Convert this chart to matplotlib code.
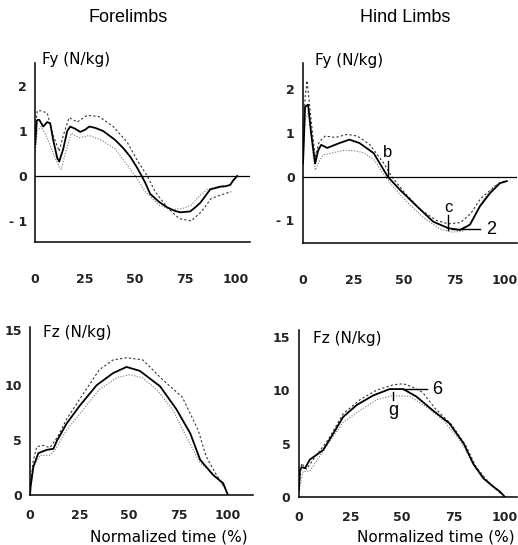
import numpy as np
import matplotlib
matplotlib.use('Agg')
import matplotlib.pyplot as plt

plt.rcParams['font.family'] = ['DejaVu Sans']

# Forelimbs Fy (N/kg) vs normalized time (%)
fy_fore_t = [0, 0.8, 2, 4, 6, 7.5, 9, 11, 12, 14, 16, 17.5, 20, 22.5, 25, 27, 30, 34, 40, 44, 47.5, 51, 53, 55, 57.5, 62, 66, 70, 72.5, 77.5, 80, 82.5, 85, 87.5, 90, 92.5, 95, 97.5, 99, 101]
fy_fore_mean = [0.7, 1.24, 1.25, 1.1, 1.2, 1.17, 0.8, 0.4, 0.32, 0.6, 1.0, 1.1, 1.05, 0.98, 1.03, 1.1, 1.07, 1.0, 0.8, 0.62, 0.43, 0.18, 0.02, -0.15, -0.4, -0.58, -0.7, -0.78, -0.81, -0.79, -0.7, -0.6, -0.45, -0.3, -0.27, -0.24, -0.23, -0.2, -0.1, 0.0]
fy_fore_up_t = [0, 1, 3, 6, 9, 12, 14, 17, 21, 26, 32, 39, 46, 51, 56, 60, 66, 72, 78, 83, 88, 93, 98]
fy_fore_up = [1.0, 1.45, 1.45, 1.4, 0.9, 0.55, 0.9, 1.3, 1.2, 1.35, 1.32, 1.1, 0.75, 0.35, 0.0, -0.35, -0.7, -0.95, -1.0, -0.8, -0.5, -0.42, -0.35]
fy_fore_lo_t = [0, 1, 3, 6, 9, 12, 13, 15, 18, 22, 27, 33, 40, 45, 50, 55, 62, 68, 74, 78, 82, 86, 90, 95]
fy_fore_lo = [0.5, 1.0, 1.1, 0.85, 0.5, 0.2, 0.15, 0.5, 0.95, 0.85, 0.9, 0.8, 0.6, 0.3, 0.0, -0.35, -0.65, -0.75, -0.72, -0.65, -0.45, -0.3, -0.25, -0.2]

# Hind limbs Fy
fy_hind_t = [0, 1, 2.5, 4, 6, 7.5, 9, 12, 18, 23, 28, 35, 42, 48, 56.5, 64.5, 72, 77.7, 82.7, 87.6, 92.6, 97.5, 101]
fy_hind_mean = [0.3, 1.6, 1.65, 1.0, 0.3, 0.6, 0.73, 0.66, 0.77, 0.85, 0.77, 0.54, 0.0, -0.3, -0.68, -1.03, -1.18, -1.22, -1.1, -0.68, -0.38, -0.15, -0.1]
fy_hind_up_t = [0, 1, 2, 4, 6, 8, 11, 16, 22, 27, 33, 40, 44, 50, 58, 66, 72, 78, 83, 88, 93, 97, 100]
fy_hind_up = [0.5, 1.8, 2.2, 1.3, 0.45, 0.8, 0.93, 0.9, 0.97, 0.93, 0.74, 0.31, 0.0, -0.35, -0.75, -1.0, -1.08, -1.05, -0.85, -0.5, -0.3, -0.15, -0.1]
fy_hind_lo_t = [0, 1, 3, 5, 6, 8, 10, 15, 20, 25, 30, 35, 40, 45, 52, 60, 68, 74, 79, 84, 89, 94, 98]
fy_hind_lo = [0.3, 1.3, 1.5, 0.5, 0.15, 0.35, 0.5, 0.55, 0.6, 0.6, 0.55, 0.4, 0.05, -0.25, -0.6, -0.95, -1.2, -1.27, -1.25, -1.0, -0.55, -0.25, -0.12]

# Forelimbs Fz
fz_fore_t = [0, 0.3, 1.7, 4.2, 8.4, 11.8, 13.5, 18.5, 25, 33.7, 42, 48.8, 55.5, 65.7, 74, 81, 86, 92.6, 97.6, 100]
fz_fore_mean = [0.0, 0.76, 2.6, 3.8, 4.1, 4.2, 4.9, 6.5, 8.1, 10.0, 11.1, 11.66, 11.3, 9.9, 7.8, 5.6, 3.2, 1.8, 1.07, 0.0]
fz_fore_up_t = [0, 1.5, 3.4, 6.7, 10, 14, 18.5, 25, 35, 42, 49, 57, 67, 77, 85, 89, 94, 99]
fz_fore_up = [0.5, 3.0, 4.4, 4.5, 4.3, 5.3, 6.9, 8.7, 11.4, 12.3, 12.5, 12.3, 10.5, 8.9, 5.9, 3.5, 1.9, 0.5]
fz_fore_lo_t = [0, 1.5, 5, 10, 13, 18.5, 27, 35, 44, 50.5, 57, 64, 72, 79, 86, 94, 99]
fz_fore_lo = [0.3, 2.4, 3.6, 3.6, 4.2, 5.9, 7.8, 9.6, 10.7, 10.95, 10.65, 9.6, 7.8, 5.3, 2.9, 1.7, 0.45]

# Hind limbs Fz
fz_hind_t = [0, 0.5, 1.3, 3, 5.3, 11.8, 16.7, 21.5, 28, 36, 44, 50.6, 57, 65, 73, 80, 84.6, 89.5, 94.3, 97.6, 100]
fz_hind_mean = [0.65, 2.5, 2.8, 2.7, 3.5, 4.4, 5.95, 7.5, 8.6, 9.5, 10.1, 10.1, 9.4, 8.1, 6.9, 5.0, 3.1, 1.75, 0.97, 0.5, 0.0]
fz_hind_up_t = [0, 1.3, 3.7, 8, 14, 21.5, 29.6, 37.7, 45.8, 50.6, 55, 60, 66, 74, 81, 86, 92, 98]
fz_hind_up = [0.8, 3.15, 2.6, 3.8, 5.3, 7.8, 9.1, 10.0, 10.5, 10.6, 10.3, 9.8, 8.3, 6.8, 4.8, 2.8, 1.4, 0.3]
fz_hind_lo_t = [0, 2, 5.3, 10, 15, 21.5, 29.6, 37.7, 45.8, 54, 62, 70, 78, 85, 91, 97.6]
fz_hind_lo = [0.5, 2.4, 2.4, 3.8, 5.2, 7.0, 8.1, 9.1, 9.5, 9.4, 8.4, 7.2, 5.3, 3.0, 1.6, 0.5]

x_ticks = [0, 25, 50, 75, 100]

fig = plt.figure(figsize=(5.18, 5.45), dpi=100)

panels = [
    # rect, xlim, ylim, yticks, ylabel, data, zero line, xtick pad
    ([0.068, 0.556, 0.415, 0.328], (0, 107.5), (-1.47, 2.51), [-1, 0, 1, 2], 'Fy (N/kg)',
     (fy_fore_t, fy_fore_mean, fy_fore_up_t, fy_fore_up, fy_fore_lo_t, fy_fore_lo), True, 22),
    ([0.585, 0.554, 0.413, 0.330], (0, 106), (-1.52, 2.6), [-1, 0, 1, 2], 'Fy (N/kg)',
     (fy_hind_t, fy_hind_mean, fy_hind_up_t, fy_hind_up, fy_hind_lo_t, fy_hind_lo), True, 22),
    ([0.058, 0.092, 0.430, 0.308], (0, 112.6), (0, 15.3), [0, 5, 10, 15], 'Fz (N/kg)',
     (fz_fore_t, fz_fore_mean, fz_fore_up_t, fz_fore_up, fz_fore_lo_t, fz_fore_lo), False, 10),
    ([0.577, 0.088, 0.421, 0.306], (0, 105.8), (0, 15.6), [0, 5, 10, 15], 'Fz (N/kg)',
     (fz_hind_t, fz_hind_mean, fz_hind_up_t, fz_hind_up, fz_hind_lo_t, fz_hind_lo), False, 10),
]

axes = []
for rect, xl, yl, yt, lab, d, zero, pad in panels:
    ax = fig.add_axes(rect)
    t, m, tu, u, tl, lo = d
    ax.plot(tu, u, color='#333333', lw=0.8, ls=(0, (2, 2)))
    ax.plot(tl, lo, color='#777777', lw=0.8, ls=(0, (1, 1.5)))
    ax.plot(t, m, color='black', lw=1.3)
    if zero:
        ax.axhline(0, color='black', lw=0.9)
    ax.set_xlim(*xl)
    ax.set_ylim(*yl)
    ax.set_xticks(x_ticks)
    ax.set_yticks(yt)
    ax.set_yticklabels([('- ' + str(-v)) if v < 0 else str(v) for v in yt])
    ax.tick_params(length=0, labelsize=9)
    ax.tick_params(axis='x', pad=pad)
    ax.tick_params(axis='y', pad=6)
    for lbl in ax.get_xticklabels() + ax.get_yticklabels():
        lbl.set_fontweight('bold')
        lbl.set_color('#222222')
    for s in ['top', 'right']:
        ax.spines[s].set_visible(False)
    for s in ['left', 'bottom']:
        ax.spines[s].set_linewidth(1.1)
    ax.patch.set_alpha(0)
    axes.append(ax)

# axis titles
fig.text(42 / 518, 1 - 59 / 545, 'Fy (N/kg)', fontsize=11, va='center')
fig.text(315 / 518, 1 - 60 / 545, 'Fy (N/kg)', fontsize=11, va='center')
fig.text(43 / 518, 1 - 332 / 545, 'Fz (N/kg)', fontsize=11, va='center')
fig.text(313 / 518, 1 - 338 / 545, 'Fz (N/kg)', fontsize=11, va='center')

fig.text(128 / 518, 1 - 18 / 545, 'Forelimbs', fontsize=13, ha='center', va='center',
         family='Liberation Sans')
fig.text(405 / 518, 1 - 18 / 545, 'Hind Limbs', fontsize=13, ha='center', va='center',
         family='Liberation Sans')

fig.text(248 / 518, 1 - 537 / 545, 'Normalized time (%)', fontsize=11, ha='right', va='center')
fig.text(515 / 518, 1 - 537 / 545, 'Normalized time (%)', fontsize=11, ha='right', va='center')

# labelled events in hind limb panels
ax = axes[1]
ax.plot([42, 42], [0, 0.35], color='black', lw=1)
ax.text(42, 0.55, 'b', fontsize=12, ha='center', va='center', family='Liberation Sans')
ax.plot([72, 72], [-1.22, -0.88], color='black', lw=1)
ax.text(72, -0.71, 'c', fontsize=12, ha='center', va='center', family='Liberation Sans')
ax.plot([74, 87.6], [-1.2, -1.2], color='black', lw=1)
ax.text(93, -1.22, '2', fontsize=13, ha='center', va='center', family='Liberation Sans')

ax = axes[3]
ax.plot([50.6, 62], [10.1, 10.1], color='black', lw=1)
ax.text(67, 10.1, '6', fontsize=13, ha='center', va='center', family='Liberation Sans')
ax.plot([45.8, 45.8], [9.1, 9.8], color='black', lw=1)
ax.text(45.6, 8.1, 'g', fontsize=13, ha='center', va='center', family='Liberation Sans')

fig.savefig('out.png', dpi=100)
